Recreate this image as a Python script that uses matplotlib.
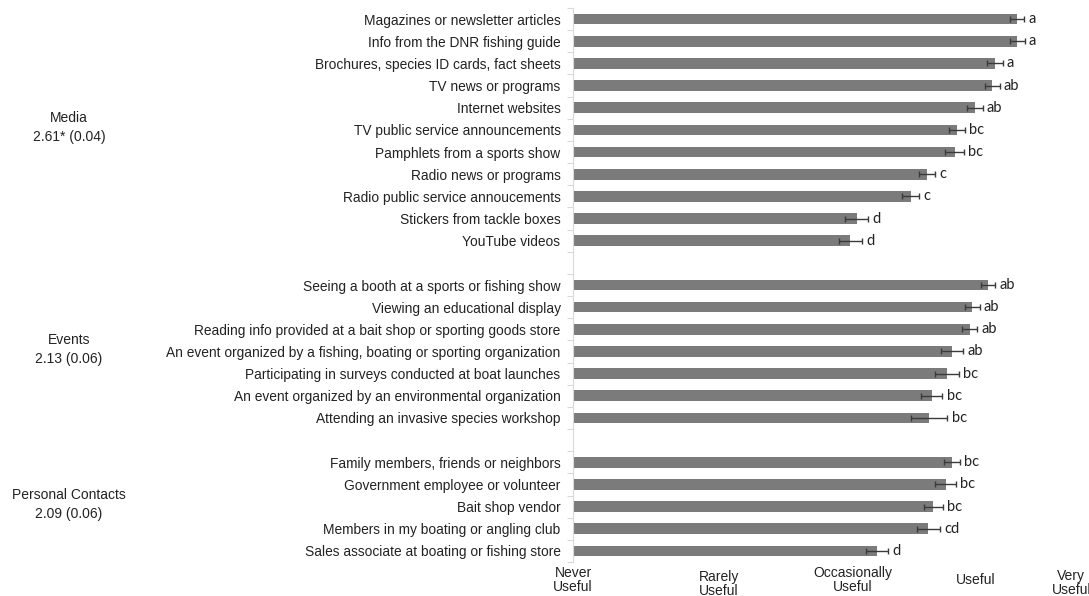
import numpy as np
import matplotlib
matplotlib.use("Agg")
import matplotlib.pyplot as plt

plt.rcParams["font.family"] = ["Liberation Sans", "DejaVu Sans"]

# Items per source group, top to bottom
media_items = [
    "Magazines or newsletter articles",
    "Info from the DNR fishing guide",
    "Brochures, species ID cards, fact sheets",
    "TV news or programs",
    "Internet websites",
    "TV public service announcements",
    "Pamphlets from a sports show",
    "Radio news or programs",
    "Radio public service annoucements",
    "Stickers from tackle boxes",
    "YouTube videos",
]
media_means = [4.54, 4.54, 4.36, 4.34, 4.20, 4.06, 4.04, 3.82, 3.69, 3.26, 3.21]
media_se = [0.056, 0.060, 0.064, 0.060, 0.064, 0.064, 0.072, 0.064, 0.068, 0.092, 0.092]
media_groups = ["a", "a", "a", "ab", "ab", "bc", "bc", "c", "c", "d", "d"]

event_items = [
    "Seeing a booth at a sports or fishing show",
    "Viewing an educational display",
    "Reading info provided at a bait shop or sporting goods store",
    "An event organized by a fishing, boating or sporting organization",
    "Participating in surveys conducted at boat launches",
    "An event organized by an environmental organization",
    "Attending an invasive species workshop",
]
event_means = [4.31, 4.18, 4.16, 4.02, 3.98, 3.86, 3.84]
event_se = [0.056, 0.060, 0.060, 0.088, 0.096, 0.084, 0.143]
event_groups = ["ab", "ab", "ab", "ab", "bc", "bc", "bc"]

contact_items = [
    "Family members, friends or neighbors",
    "Government employee or volunteer",
    "Bait shop vendor",
    "Members in my boating or angling club",
    "Sales associate at boating or fishing store",
]
contact_means = [4.02, 3.97, 3.87, 3.83, 3.42]
contact_se = [0.064, 0.084, 0.076, 0.092, 0.088]
contact_groups = ["bc", "bc", "bc", "cd", "d"]

group_names = ["Media\n2.61* (0.04)", "Events\n2.13 (0.06)", "Personal Contacts\n2.09 (0.06)"]
scale_labels = ["Never\nUseful", "Rarely\nUseful", "Occasionally\nUseful", "Useful", "Very\nUseful"]

# --- layout ---
scale_label_x = [1.0, 2.16, 3.23, 4.21, 4.97]
scale_label_dy = [0, 4, 0, 0, 3]          # px, slight vertical stagger
bar_color = "#7b7b7b"
axis_gray = "#d9d9d9"
text_color = "#222222"

groups = [
    (media_items, media_means, media_se, media_groups),
    (event_items, event_means, event_se, event_groups),
    (contact_items, contact_means, contact_se, contact_groups),
]

labels, means, ses, letters, ypos, group_centers = [], [], [], [], [], []
row = 0
for items, m, s, g in groups:
    start = row
    for i in range(len(items)):
        labels.append(items[i])
        means.append(m[i])
        ses.append(s[i])
        letters.append(g[i])
        ypos.append(row)
        row += 1
    group_centers.append((start + row - 1) / 2)
    row += 1  # blank slot between groups
n_slots = row - 1

means = np.array(means)
ses = np.array(ses)
ypos = np.array(ypos)

fig = plt.figure(figsize=(10.89, 5.96), dpi=100)
W, H = 1089, 596
ax = fig.add_axes([573 / W, 1 - 562 / H, 516 / W, 554 / H])

x0 = 1.0
ax.barh(ypos, means - x0, left=x0, height=0.48, color=bar_color, zorder=2)
ax.errorbar(means, ypos, xerr=ses, fmt="none", ecolor="#3a3a3a",
            elinewidth=1.0, capsize=2.2, capthick=1.0, zorder=3)

for xm, se, y, let in zip(means, ses, ypos, letters):
    ax.annotate(let, (xm + se, y), xytext=(3, 0), textcoords="offset points",
                va="center", ha="left", fontsize=10.5, color=text_color,
                family=["Lato", "DejaVu Sans"])

ax.set_xlim(x0, x0 + 516 / 125.5)
ax.set_ylim(n_slots - 0.5, -0.5)

ax.set_yticks(ypos)
ax.set_yticklabels(labels, fontsize=9.9, color=text_color)
ax.tick_params(axis="y", which="major", length=0, pad=9)
ax.set_yticks(np.arange(-0.5, n_slots, 1.0), minor=True)
ax.tick_params(axis="y", which="minor", length=4, color=axis_gray, width=0.8)
ax.set_xticks([])

for side in ["top", "right", "bottom"]:
    ax.spines[side].set_visible(False)
ax.spines["left"].set_color(axis_gray)
ax.spines["left"].set_linewidth(0.8)

to_fig = fig.transFigure.inverted()

# group captions on the far left
for name, yc in zip(group_names, group_centers):
    y_fig = to_fig.transform(ax.transData.transform((x0, yc - 0.1)))[1]
    fig.text(69 / W, y_fig, name, ha="center", va="center", fontsize=10,
             color=text_color, linespacing=1.45)

# response scale along the bottom
for lab, xv, dy in zip(scale_labels, scale_label_x, scale_label_dy):
    x_fig = to_fig.transform(ax.transData.transform((xv, 0)))[0]
    fig.text(x_fig, 1 - (580 + dy) / H, lab, ha="center", va="center",
             fontsize=10, color=text_color, linespacing=1.0)

fig.savefig("out.png", dpi=100)
